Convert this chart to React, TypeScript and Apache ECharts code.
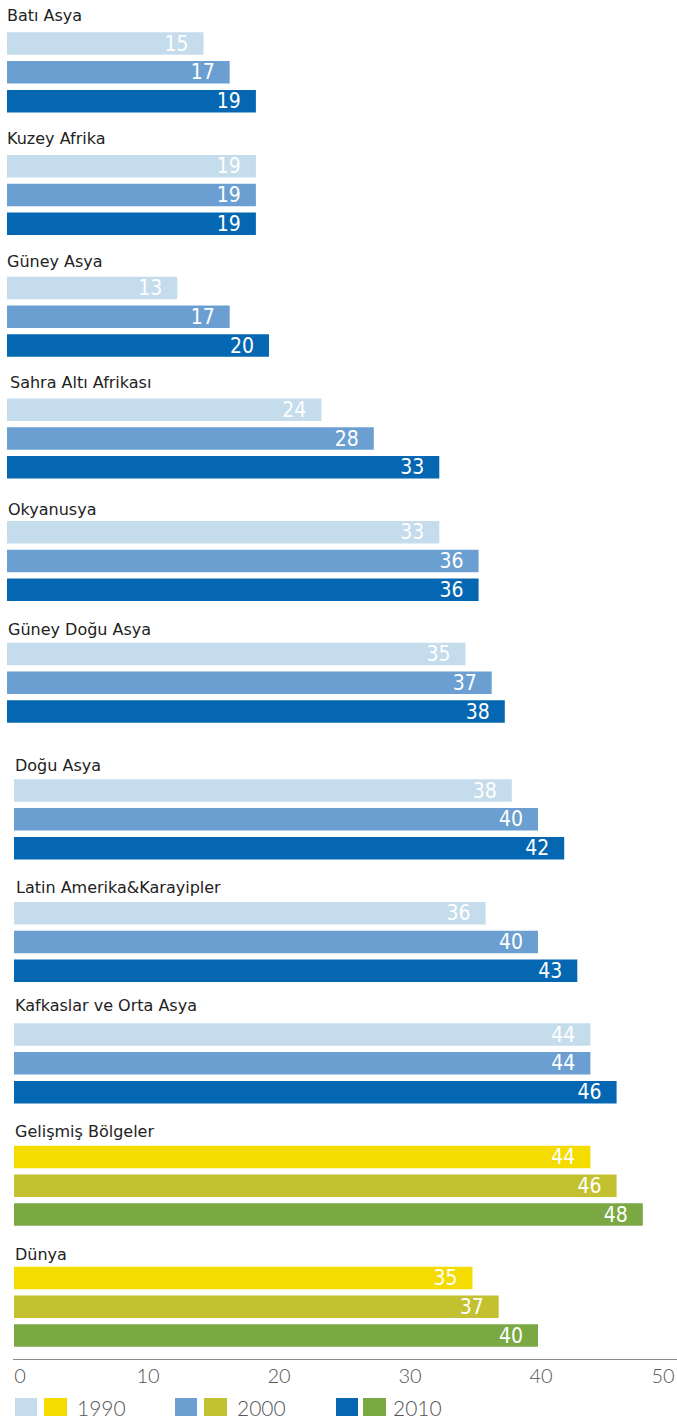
import React, { useEffect, useRef } from "react";
import * as echarts from "echarts";

// ---- data ----
const regions = [
  "Batı Asya",
  "Kuzey Afrika",
  "Güney Asya",
  "Sahra Altı Afrikası",
  "Okyanusya",
  "Güney Doğu Asya",
  "Doğu Asya",
  "Latin Amerika&Karayipler",
  "Kafkaslar ve Orta Asya",
  "Gelişmiş Bölgeler",
  "Dünya",
];
const years = ["1990", "2000", "2010"];
const values1990 = [15, 19, 13, 24, 33, 35, 38, 36, 44, 44, 35];
const values2000 = [17, 19, 17, 28, 36, 37, 40, 40, 44, 46, 37];
const values2010 = [19, 19, 20, 33, 36, 38, 42, 43, 46, 48, 40];
const yellowRegions = ["Gelişmiş Bölgeler", "Dünya"];
const blueColors = ["#c5dcec", "#6b9fd1", "#0567b2"];
const yellowColors = ["#f4dc00", "#c3c12f", "#7aa843"];
const axisMin = 0;
const axisMax = 50;
const axisInterval = 10;

// ---- layout (positions only) ----
const barTops = [32.3, 155, 276.7, 398.5, 521, 642.7, 779.3, 902, 1023.3, 1145.7, 1266.7];
const titleYs = [15, 138, 261, 382.5, 509, 629, 765, 887.5, 1005, 1131, 1254];
const titleXs = [7, 7, 7, 10, 8, 8, 15, 16, 15, 15, 15];
const gridLefts = [7, 7, 7, 7, 7, 7, 14, 14, 14, 14, 14];
const PITCH = 28.8;
const BAR_H = 22.5;
const PLOT_W = 655;

const TITLE_FONT = "'DejaVu Sans', 'Liberation Sans', sans-serif";
const LABEL_FONT = "'Liberation Sans Narrow', 'DejaVu Sans Condensed', sans-serif";
const AXIS_FONT = "Lato, 'Open Sans', sans-serif";

export default function App() {
  const ref = useRef<HTMLDivElement>(null);

  useEffect(() => {
    if (!ref.current) return;
    const chart = echarts.init(ref.current, undefined, { renderer: "svg" });
    const last = regions.length - 1;

    const tickText = { color: "#555", fontSize: 20, fontWeight: 300, fontFamily: AXIS_FONT };

    const grids = regions.map((_, i) => ({
      left: gridLefts[i],
      width: PLOT_W,
      top: barTops[i] - (PITCH - BAR_H) / 2,
      height: PITCH * 3,
      containLabel: false,
      outerBoundsMode: "none",
    }));

    const xAxes = regions.map((_, i) => ({
      type: "value",
      gridIndex: i,
      min: axisMin,
      max: axisMax,
      interval: axisInterval,
      show: i === last,
      offset: 9.4,
      axisLine: { show: false },
      axisTick: { show: false },
      splitLine: { show: false },
      axisLabel: {
        show: i === last,
        ...tickText,
        margin: 6,
        formatter: (v: number) =>
          v === axisMin ? `{start|${v}}` : v === axisMax ? `{end|${v}}` : `{mid|${v}}`,
        rich: {
          start: { ...tickText, padding: [0, 0, 0, 12] },
          mid: { ...tickText, padding: [0, 0, 0, 6] },
          end: { ...tickText, padding: [0, 12, 0, 0] },
        },
      },
    }));

    const yAxes = regions.map((_, i) => ({
      type: "category",
      gridIndex: i,
      data: years,
      inverse: true,
      show: false,
    }));

    const series = regions.map((name, i) => {
      const palette = yellowRegions.includes(name) ? yellowColors : blueColors;
      const vals = [values1990[i], values2000[i], values2010[i]];
      return {
        type: "bar",
        name,
        xAxisIndex: i,
        yAxisIndex: i,
        barWidth: BAR_H,
        data: vals.map((v, k) => ({ value: v, itemStyle: { color: palette[k] } })),
        label: {
          show: true,
          position: "insideRight",
          distance: 15,
          color: "#ffffff",
          fontSize: 21,
          fontFamily: LABEL_FONT,
        },
      };
    });

    const titles = regions.map((name, i) => ({
      type: "text",
      x: titleXs[i],
      y: titleYs[i],
      style: {
        text: name,
        fill: "#222",
        fontSize: 16,
        fontFamily: TITLE_FONT,
        verticalAlign: "middle",
        textVerticalAlign: "middle",
      },
    }));

    const legendX = [
      [15, 44, 77],
      [175, 204, 237],
      [336, 363, 393],
    ];
    const legend: any[] = [];
    years.forEach((y, k) => {
      legend.push({
        type: "rect",
        shape: { x: legendX[k][0], y: 1398, width: 22, height: 18 },
        style: { fill: blueColors[k] },
      });
      legend.push({
        type: "rect",
        shape: { x: legendX[k][1], y: 1398, width: 23, height: 18 },
        style: { fill: yellowColors[k] },
      });
      legend.push({
        type: "text",
        x: legendX[k][2],
        y: 1407.5,
        style: {
          text: y,
          fill: "#555",
          fontSize: 21,
          fontWeight: 300,
          fontFamily: AXIS_FONT,
          verticalAlign: "middle",
          textVerticalAlign: "middle",
        },
      });
    });

    const axisLine = {
      type: "line",
      shape: { x1: 13, y1: 1359.5, x2: 677, y2: 1359.5 },
      style: { stroke: "#8a8a8a", lineWidth: 1 },
    };

    chart.setOption({
      animation: false,
      backgroundColor: "#ffffff",
      grid: grids,
      xAxis: xAxes,
      yAxis: yAxes,
      series,
      graphic: { elements: [...titles, ...legend, axisLine] },
    });

    return () => chart.dispose();
  }, []);

  return (
    <div
      ref={ref}
      style={{ position: "absolute", left: 0, top: 0, width: 677, height: 1421 }}
    />
  );
}
